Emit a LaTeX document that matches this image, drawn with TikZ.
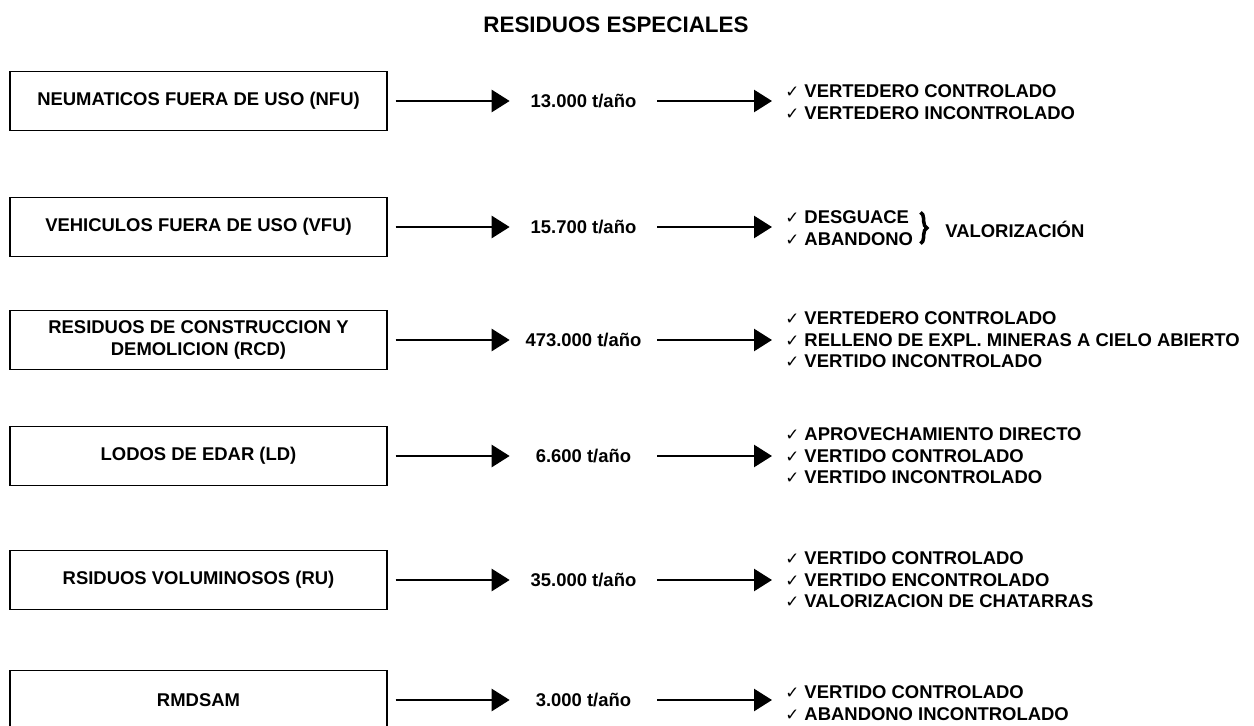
\documentclass[tikz,border=0pt]{standalone}
\usepackage{fontspec}
\setmainfont{Liberation Sans}
\newfontfamily\symfont{DejaVu Sans}
\usepackage{tikz}
\usetikzlibrary{positioning,arrows.meta,decorations.pathreplacing}
\newcommand{\rtxt}{\bfseries\fontsize{10.5}{12.2}\selectfont}
\newcommand{\chk}{{\symfont\fontsize{9.5}{12}\selectfont ✓}\ }

\begin{document}
\begin{tikzpicture}[x=0.02cm,y=-0.02cm,
    caja/.style={draw,line width=0.8pt,minimum width=7.54cm,minimum height=1.18cm,inner sep=0pt,align=center,font=\rtxt},
    cant/.style={minimum width=2.94cm,inner sep=0pt,font=\rtxt},
    lista/.style={anchor=west,inner sep=0pt,align=left,font=\rtxt},
    flecha/.style={-{Triangle[length=0.36cm,width=0.44cm]},line width=1.5pt}]
    \useasboundingbox[fill=white] (0,0) rectangle (1254,726);

    \node[font=\bfseries\fontsize{12.75}{15}\selectfont] (titulo) at (616,25) {RESIDUOS ESPECIALES};

    \node[caja] (nfu) at (198.5,101) {NEUMATICOS FUERA DE USO (NFU)};
    \node[cant] (cnfu) at (583.5,101) {13.000 t/año};
    \node[lista] (lnfu) at (785,102) {\chk VERTEDERO CONTROLADO\\\chk VERTEDERO INCONTROLADO};

    \node[caja] (vfu) at (198.5,227) {VEHICULOS FUERA DE USO (VFU)};
    \node[cant] (cvfu) at (583.5,227) {15.700 t/año};
    \node[lista] (lvfu) at (785,228) {\chk DESGUACE\\\chk ABANDONO};
    \node[lista] (valor) at (945,229) {VALORIZACIÓN};

    \node[caja] (rcd) at (198.5,340) {RESIDUOS DE CONSTRUCCION Y\\DEMOLICION (RCD)};
    \node[cant] (crcd) at (583.5,340) {473.000 t/año};
    \node[lista] (lrcd) at (785,340) {\chk VERTEDERO CONTROLADO\\\chk RELLENO DE EXPL. MINERAS A CIELO ABIERTO\\\chk VERTIDO INCONTROLADO};

    \node[caja] (ld) at (198.5,456) {LODOS DE EDAR (LD)};
    \node[cant] (cld) at (583.5,456) {6.600 t/año};
    \node[lista] (lld) at (785,456) {\chk APROVECHAMIENTO DIRECTO\\\chk VERTIDO CONTROLADO\\\chk VERTIDO INCONTROLADO};

    \node[caja] (ru) at (198.5,580) {RSIDUOS VOLUMINOSOS (RU)};
    \node[cant] (cru) at (583.5,580) {35.000 t/año};
    \node[lista] (lru) at (785,580) {\chk VERTIDO CONTROLADO\\\chk VERTIDO ENCONTROLADO\\\chk VALORIZACION DE CHATARRAS};

    \node[caja] (rmd) at (198.5,700) {RMDSAM};
    \node[cant] (crmd) at (583.5,700) {3.000 t/año};
    \node[lista] (lrmd) at (785,703) {\chk VERTIDO CONTROLADO\\\chk ABANDONO INCONTROLADO};

    % flechas
    \draw[flecha,shorten <=0.16cm] (nfu) -- (cnfu);
    \draw[flecha,shorten >=0.26cm] (cnfu) -- (cnfu -| lnfu.west);
    \draw[flecha,shorten <=0.16cm] (vfu) -- (cvfu);
    \draw[flecha,shorten >=0.26cm] (cvfu) -- (cvfu -| lvfu.west);
    \draw[flecha,shorten <=0.16cm] (rcd) -- (crcd);
    \draw[flecha,shorten >=0.26cm] (crcd) -- (crcd -| lrcd.west);
    \draw[flecha,shorten <=0.16cm] (ld) -- (cld);
    \draw[flecha,shorten >=0.26cm] (cld) -- (cld -| lld.west);
    \draw[flecha,shorten <=0.16cm] (ru) -- (cru);
    \draw[flecha,shorten >=0.26cm] (cru) -- (cru -| lru.west);
    \draw[flecha,shorten <=0.16cm] (rmd) -- (crmd);
    \draw[flecha,shorten >=0.26cm] (crmd) -- (crmd -| lrmd.west);

    \draw[line width=2pt,decorate,decoration={brace,amplitude=0.13cm}]
        ([xshift=0.14cm,yshift=-0.04cm]lvfu.north east) -- ([xshift=0.14cm,yshift=0.04cm]lvfu.south east);
\end{tikzpicture}
\end{document}
